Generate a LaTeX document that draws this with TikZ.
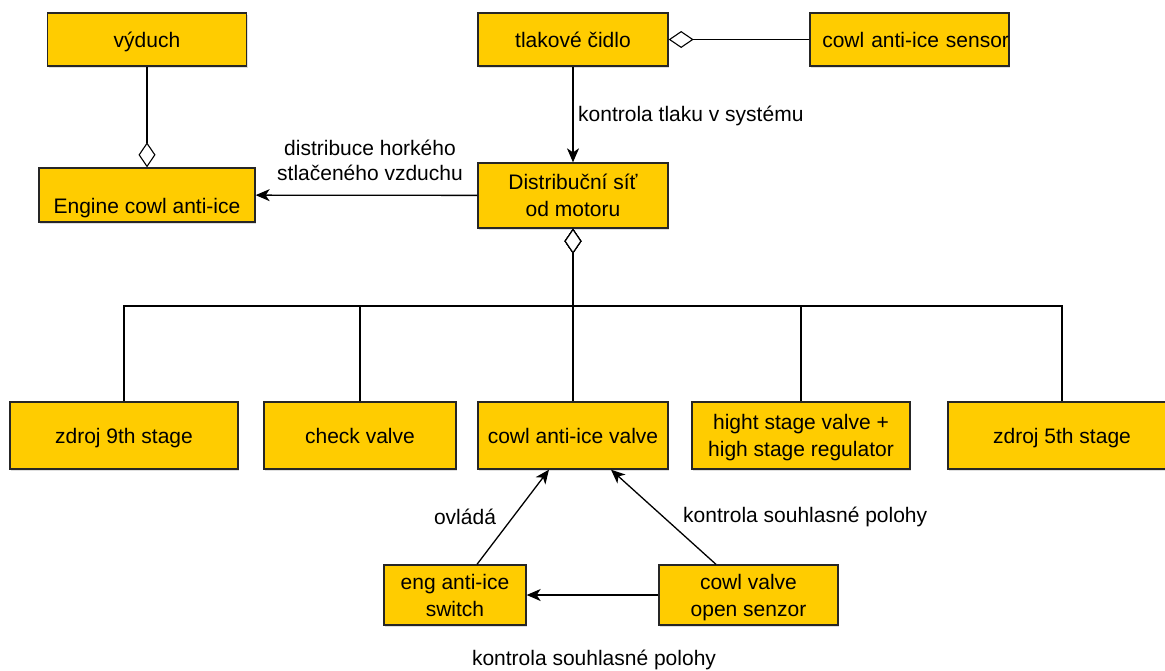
\documentclass[tikz,border=0pt]{standalone}
\usepackage{fontspec}
\setmainfont{Liberation Sans}
\usetikzlibrary{arrows.meta,shadows}
\definecolor{boxfill}{HTML}{FFCC00}
\begin{document}
\begin{tikzpicture}[x=1pt,y=-1pt,
  font=\fontsize{21}{27}\selectfont,
  box/.style={draw=black!85, fill=boxfill, line width=1.3pt, inner sep=0pt,
    align=center, anchor=center, text depth=0pt,
    drop shadow={shadow xshift=1pt, shadow yshift=-1.5pt, opacity=0.25}},
  arr/.style={line width=1.3pt, -{Stealth[length=14pt,width=12pt,inset=4pt]}},
  agg/.style={line width=1.1pt, -{Diamond[open, fill=white, length=25pt, width=17pt, line width=1.1pt]}},
  lbl/.style={inner sep=0pt, align=center}]
\clip (0,0) rectangle (1165,670);

% top row
\node[box, minimum width=199pt, minimum height=53pt] (vyduch) at (147,39.5) {výduch};
\node[box, minimum width=190pt, minimum height=53pt] (tlak) at (573,39.5) {tlakové čidlo};
\node[box, minimum width=199pt, minimum height=53pt, text width=199pt, align=right] (sensor) at (909.5,39.5) {cowl anti-ice sensor};

% second row
\node[box, minimum width=216pt, minimum height=54pt, align=none,
      text height=40pt, text depth=4pt] (engine) at (147,195) {Engine cowl anti-ice};
\node[box, minimum width=190pt, minimum height=65pt] (dist) at (573,195.5) {Distribuční síť\\od motoru};

% sources and valves
\node[box, minimum width=228pt, minimum height=67pt] (z9) at (124,435.5) {zdroj 9th stage};
\node[box, minimum width=192pt, minimum height=67pt] (check) at (360,435.5) {check valve};
\node[box, minimum width=190pt, minimum height=67pt] (cav) at (573,435.5) {cowl anti-ice valve};
\node[box, minimum width=218pt, minimum height=67pt] (hsv) at (801,435.5) {hight stage valve +\\high stage regulator};
\node[box, minimum width=228pt, minimum height=67pt] (z5) at (1062,435.5) {zdroj 5th stage};

% control elements
\node[box, minimum width=142pt, minimum height=60pt] (sw) at (455,595) {eng anti-ice\\switch};
\node[box, minimum width=179pt, minimum height=60pt] (cvs) at (748.5,595) {cowl valve\\open senzor};

% aggregations
\draw[agg] (vyduch) -- (engine);
\draw[agg] (sensor) -- (tlak);
\coordinate (hub) at (573,306);
\draw[agg] (z9) |- (hub) -- (dist);
\draw[agg] (check) |- (hub) -- (dist);
\draw[agg] (cav) -- (dist);
\draw[agg] (hsv) |- (hub) -- (dist);
\draw[agg] (z5) |- (hub) -- (dist);

% directed relations
\draw[arr] (tlak) -- (dist);
\node[lbl, anchor=west] (lt) at (578,116) {kontrola tlaku v systému};
\draw[arr] (dist) -- (engine);
\node[lbl, font=\fontsize{21}{25}\selectfont] (ld) at (370,160.5) {distribuce horkého\\stlačeného vzduchu};
\draw[arr] ([xshift=22pt]sw.north) -- ([xshift=-24pt]cav.south);
\node[lbl] (lo) at (465,517) {ovládá};
\draw[arr] ([xshift=-32.5pt]cvs.north) -- ([xshift=38pt]cav.south);
\node[lbl, anchor=west] (lk) at (683,517) {kontrola souhlasné polohy};
\draw[arr] (cvs) -- (sw);
\node[lbl] (lb) at (594,660) {kontrola souhlasné polohy};
\end{tikzpicture}
\end{document}
